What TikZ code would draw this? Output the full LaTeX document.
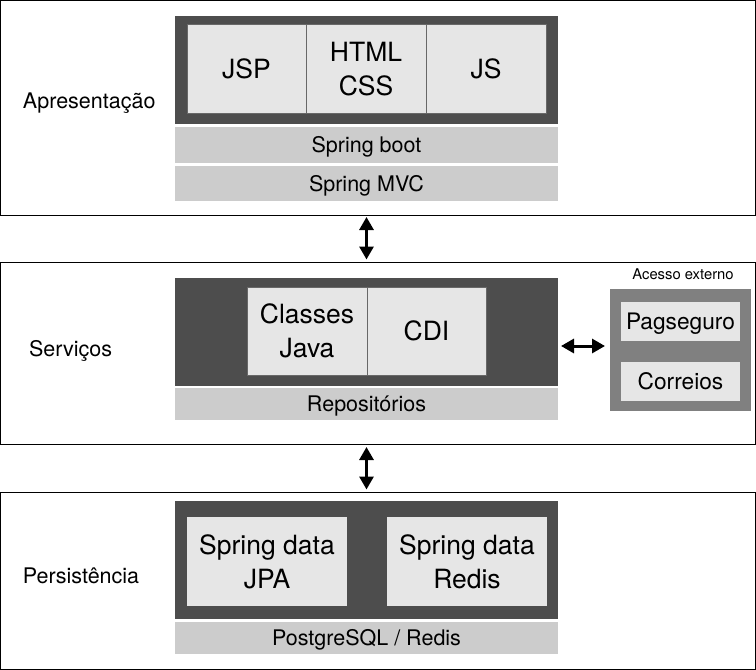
\documentclass[tikz,border=0pt]{standalone}
\usepackage{fontspec}
\setmainfont{TeX Gyre Heros}
\usetikzlibrary{arrows.meta}
\definecolor{dk}{HTML}{4D4D4D}
\definecolor{lt}{HTML}{E6E6E6}
\definecolor{br}{HTML}{CCCCCC}
\definecolor{ex}{HTML}{808080}
\newcommand\bxx[7]{\node[#6, minimum width={#4-#2}, minimum height={#5-#3}] (#1) at ({(#2+#4)/2},{(#3+#5)/2}) {#7};}
\tikzset{
  base/.style={rectangle, inner sep=0pt, outer sep=0pt},
  sec/.style={base, draw=black, line width=1pt},
  darkbox/.style={base, fill=dk},
  cell/.style={base, fill=lt, draw=dk!85, line width=0.8pt},
  bar/.style={base, fill=br},
  extbox/.style={base, fill=ex},
  bigone/.style={font=\fontsize{26.5}{34}\selectfont, align=center, text height=19pt, text depth=0pt},
  bigtwo/.style={font=\fontsize{26.5}{34}\selectfont, align=center, text height=53pt, text depth=0pt},
  midtxt/.style={font=\fontsize{21.5}{26}\selectfont, text height=15.5pt, text depth=0pt},
  pagtxt/.style={font=\fontsize{22.7}{27}\selectfont, text height=16.3pt, text depth=0pt},
  lbl/.style={base, anchor=base west, font=\fontsize{21.5}{26}\selectfont},
  smalltxt/.style={base, font=\fontsize{14.8}{18}\selectfont},
  arr/.style={{Triangle[length=13pt,width=14pt]}-{Triangle[length=13pt,width=14pt]}, line width=3pt, black},
}
\begin{document}
\begin{tikzpicture}[x=1pt,y=-1pt]
\useasboundingbox (0,0) rectangle (756,670);
% sections
\bxx{sec1}{0.5}{0.5}{755.5}{215}{sec}{}
\bxx{sec2}{0.5}{262.5}{755.5}{444}{sec}{}
\bxx{sec3}{0.5}{492.5}{755.5}{669.5}{sec}{}
\node[lbl] (lap) at (23,108) {Apresentação};
\node[lbl] (lse) at (29,356) {Serviços};
\node[lbl] (lpe) at (23,583) {Persistência};
% presentation
\bxx{dark1}{175}{16}{558}{124}{darkbox}{}
\bxx{jsp}{187}{24}{306}{113}{cell,bigone}{JSP}
\bxx{html}{306}{24}{426}{113}{cell,bigtwo}{HTML\\CSS}
\bxx{js}{426}{24}{546}{113}{cell,bigone}{JS}
\bxx{boot}{175}{127}{558}{163}{bar,midtxt}{Spring boot}
\bxx{mvc}{175}{166}{558}{201}{bar,midtxt}{Spring MVC}
% services
\bxx{dark2}{175}{278}{558}{386}{darkbox}{}
\bxx{classes}{247}{287}{367}{375}{cell,bigtwo}{Classes\\Java}
\bxx{cdi}{367}{287}{486}{375}{cell,bigone}{CDI}
\bxx{repo}{175}{388}{558}{420}{bar,midtxt}{Repositórios}
% external
\node[smalltxt] (exlbl) at (683,274) {Acesso externo};
\bxx{ext}{610}{289}{751}{411}{extbox}{}
\bxx{pag}{621}{302}{740}{341}{base,fill=lt,pagtxt}{Pagseguro}
\bxx{cor}{621}{362}{740}{401}{base,fill=lt,pagtxt}{Correios}
% persistence
\bxx{dark3}{175}{501}{558}{619}{darkbox}{}
\bxx{jpa}{187}{517}{347}{606}{base,fill=lt,bigtwo}{Spring data\\JPA}
\bxx{redis}{387}{517}{547}{606}{base,fill=lt,bigtwo}{Spring data\\Redis}
\bxx{pg}{175}{622}{558}{654}{bar,midtxt}{PostgreSQL / Redis}
% arrows
\coordinate (ha) at (0,346);
\draw[arr, shorten <=2pt, shorten >=3pt] (dark1.center |- sec1.south) -- (dark1.center |- sec2.north);
\draw[arr, shorten <=3pt, shorten >=3pt] (dark2.center |- sec2.south) -- (dark2.center |- sec3.north);
\draw[arr, shorten <=3pt, shorten >=5pt] (dark2.east |- ha) -- (ext.west |- ha);
\end{tikzpicture}
\end{document}
